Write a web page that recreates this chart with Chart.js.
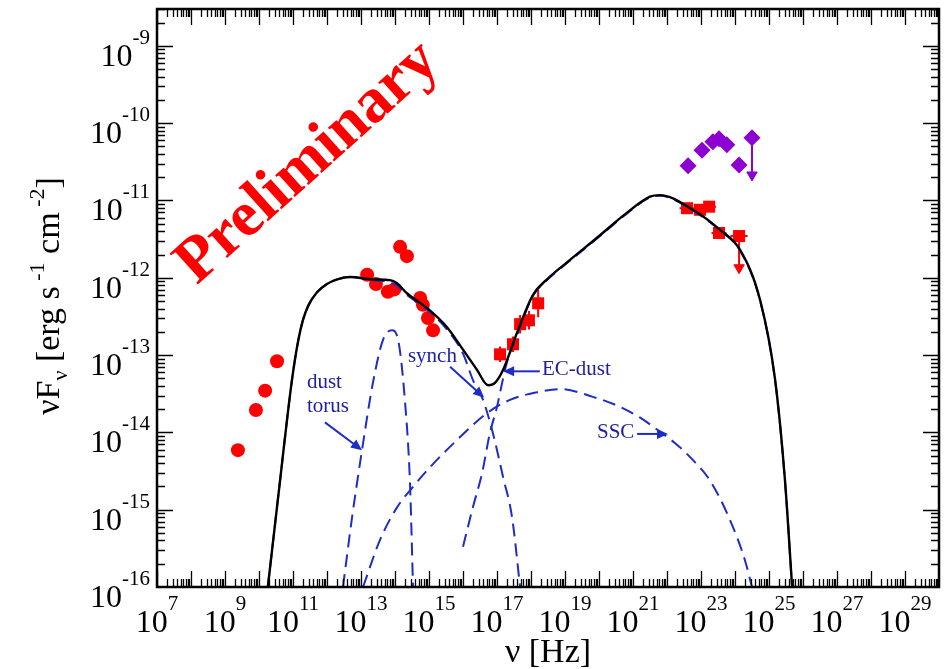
<!DOCTYPE html>
<html>
<head>
<meta charset="utf-8">
<title>SED</title>
<script src="https://cdn.jsdelivr.net/npm/chart.js@4.4.1/dist/chart.umd.min.js"></script>
<style>
  html, body { margin: 0; padding: 0; background: #fff; }
  canvas { display: block; }
</style>
</head>
<body>
<canvas id="sed" width="948" height="669"></canvas>
<script>
// Broadband SED. All values are log10(nu / Hz) and log10(nuFnu / erg s^-1 cm^-2)

// radio / IR / optical-UV photometry (red circles)
const circleLogNu   = [9.38, 9.91, 10.18, 10.53, 13.18, 13.44, 13.79, 13.98, 14.15, 14.35, 14.74, 14.82, 14.97, 15.12];
const circleLogFlux = [-14.23, -13.71, -13.46, -13.08, -11.96, -12.08, -12.18, -12.15, -11.60, -11.72, -12.26, -12.35, -12.52, -12.68];

// X-ray spectrum (red squares with error bars)
const xrayLogNu   = [17.09, 17.47, 17.68, 17.94, 18.21];
const xrayLogFlux = [-12.99, -12.86, -12.60, -12.55, -12.33];
const xrayLogErr  = [0.10, 0.10, 0.12, 0.12, 0.18];

// gamma-ray bins (red squares), last one is an upper limit
const gammaLogNu    = [22.59, 22.97, 23.24, 23.53, 24.12];
const gammaLogFlux  = [-11.10, -11.12, -11.08, -11.42, -11.46];
const gammaLogNuErr = [0.22, 0.2, 0.2, 0.22, 0.25];
const gammaLimitLogNu = [24.12];
const gammaLimitFrom  = [-11.46];
const gammaLimitTo    = [-11.87];

// second gamma-ray data set (purple diamonds), last one is an upper limit
const tevLogNu   = [22.62, 23.03, 23.35, 23.53, 23.76, 24.12, 24.50];
const tevLogFlux = [-10.55, -10.35, -10.24, -10.20, -10.28, -10.54, -10.19];
const tevLimitLogNu = [24.50];
const tevLimitFrom  = [-10.19];
const tevLimitTo    = [-10.67];

// model components
const totalLogNu   = [10.26, 10.62, 10.97, 11.15, 11.29, 11.45, 11.70, 12.00, 12.30, 12.68, 13.35, 13.85, 14.06, 14.35, 14.94, 15.53, 16.00, 16.41, 16.74, 16.94, 17.18, 17.59, 18.06, 18.47, 19.06, 20.03, 20.76, 21.50, 21.79, 22.76, 23.56, 24.15, 24.74, 25.18, 25.47, 25.68];
const totalLogFlux = [-16.0, -14.62, -13.32, -12.82, -12.55, -12.36, -12.19, -12.08, -12.02, -11.99, -12.02, -12.03, -12.07, -12.20, -12.39, -12.64, -12.93, -13.19, -13.39, -13.36, -13.19, -12.71, -12.22, -12.02, -11.80, -11.45, -11.18, -10.95, -10.93, -11.12, -11.38, -11.64, -12.29, -13.32, -14.62, -16.0];

const synchLogNu   = [10.26, 10.62, 10.97, 11.15, 11.29, 11.45, 11.70, 12.00, 12.30, 12.68, 13.35, 13.85, 14.06, 14.35, 14.94, 15.53, 16.00, 16.29, 16.59, 16.88, 17.18, 17.44, 17.68];
const synchLogFlux = [-16.0, -14.62, -13.32, -12.82, -12.55, -12.36, -12.19, -12.08, -12.02, -11.99, -12.03, -12.06, -12.10, -12.22, -12.41, -12.67, -12.98, -13.32, -13.58, -14.01, -14.58, -15.09, -16.0];

const torusLogNu   = [12.47, 12.74, 13.03, 13.35, 13.65, 13.91, 14.09, 14.29, 14.44, 14.53];
const torusLogFlux = [-16.0, -15.09, -14.23, -13.36, -12.80, -12.68, -12.80, -13.58, -14.65, -16.0];

const sscLogNu   = [13.06, 13.56, 14.06, 14.50, 15.03, 15.82, 16.71, 17.38, 18.18, 18.85, 19.82, 20.62, 21.21, 21.79, 22.24, 22.68, 23.26, 23.85, 24.29, 24.50];
const sscLogFlux = [-16.0, -15.39, -14.97, -14.72, -14.45, -14.10, -13.75, -13.58, -13.48, -13.44, -13.54, -13.67, -13.81, -13.99, -14.14, -14.32, -14.62, -15.13, -15.65, -16.0];

const ecLogNu   = [16.00, 16.29, 16.56, 16.79, 17.00, 17.15, 17.29, 17.59, 18.06, 18.47, 19.06, 20.03, 20.76, 21.50, 21.79, 22.76, 23.56, 24.15, 24.74, 25.18, 25.47, 25.68];
const ecLogFlux = [-15.48, -14.97, -14.53, -14.01, -13.67, -13.36, -13.10, -12.74, -12.23, -12.03, -11.81, -11.46, -11.19, -10.96, -10.94, -11.13, -11.39, -11.65, -12.30, -13.33, -14.63, -16.0];

// axis tick labels (exponents)
const xTickExps = [7, 9, 11, 13, 15, 17, 19, 21, 23, 25, 27, 29];
const yTickExps = [-16, -15, -14, -13, -12, -11, -10, -9];

const serif = '"Liberation Serif", "DejaVu Serif", serif';
const RED = 'rgb(255,0,0)';
const PURPLE = 'rgb(140,0,210)';
const BLUE = 'rgb(30,45,200)';
const NAVY = 'rgb(30,30,160)';

const pts = (nu, fl) => nu.map((v, i) => ({ x: 10 ** v, y: 10 ** fl[i] }));

function vBars(nu, fl, err) {
    const out = [];
    nu.forEach((v, i) => {
        out.push({ x: 10 ** v, y: 10 ** (fl[i] - err[i]) }, { x: 10 ** v, y: 10 ** (fl[i] + err[i]) }, { x: 10 ** v, y: null });
    });
    return out;
}
function hBars(nu, fl, err) {
    const out = [];
    nu.forEach((v, i) => {
        out.push({ x: 10 ** (v - err[i]), y: 10 ** fl[i] }, { x: 10 ** (v + err[i]), y: 10 ** fl[i] }, { x: 10 ** v, y: null });
    });
    return out;
}
function limitShafts(nu, from, to) {
    const out = [];
    nu.forEach((v, i) => {
        out.push({ x: 10 ** v, y: 10 ** from[i] }, { x: 10 ** v, y: 10 ** to[i] }, { x: 10 ** v, y: null });
    });
    return out;
}

const curve = (nu, fl, color, width, dashed, order) => ({
    data: pts(nu, fl), showLine: true, borderColor: color, borderWidth: width,
    borderDash: dashed ? [13, 7] : [], pointRadius: 0, cubicInterpolationMode: 'monotone',
    fill: false, order: order
});
const segs = (data, color, order) => ({
    data: data, showLine: true, borderColor: color, borderWidth: 2, pointRadius: 0,
    tension: 0, spanGaps: false, order: order
});

// annotations placed in data coordinates
const notes = [
    { text: 'dust',    nu: 11.41, f: -13.43 },
    { text: 'torus',   nu: 11.41, f: -13.74 },
    { text: 'synch',   nu: 14.38, f: -13.09 },
    { text: 'EC-dust', nu: 18.32, f: -13.26 },
    { text: 'SSC',     nu: 19.94, f: -14.07 }
];
const arrows = [
    { from: [11.94, -13.87], to: [13.03, -14.23] },
    { from: [15.62, -13.15], to: [16.62, -13.55] },
    { from: [18.26, -13.21], to: [17.18, -13.21] },
    { from: [21.12, -14.02], to: [22.03, -14.02] }
];

function drawParts(ctx, parts, x, y) {
    let cx = x;
    parts.forEach(p => {
        ctx.font = p.font;
        ctx.fillText(p.t, cx, y + (p.dy || 0));
        cx += ctx.measureText(p.t).width;
    });
}
function partsWidth(ctx, parts) {
    let w = 0;
    parts.forEach(p => { ctx.font = p.font; w += ctx.measureText(p.t).width; });
    return w;
}

const sedDecor = {
    id: 'sedDecor',
    afterDraw(chart) {
        const { ctx, chartArea: a, scales: { x, y } } = chart;
        ctx.save();

        // inward ticks on all four sides
        ctx.strokeStyle = '#000';
        ctx.lineWidth = 1.3;
        ctx.beginPath();
        for (let d = 7; d < 30; d++) {
            for (let m = 1; m < 10; m++) {
                const px = Math.round(x.getPixelForValue(m * 10 ** d)) + 0.5;
                if (px < a.left || px > a.right) continue;
                const len = m === 1 ? 16 : 8;
                ctx.moveTo(px, a.bottom); ctx.lineTo(px, a.bottom - len);
                ctx.moveTo(px, a.top); ctx.lineTo(px, a.top + len);
            }
        }
        for (let d = -16; d < -8; d++) {
            for (let m = 1; m < 10; m++) {
                const py = Math.round(y.getPixelForValue(m * 10 ** d)) + 0.5;
                if (py < a.top || py > a.bottom) continue;
                const len = m === 1 ? 16 : 8;
                ctx.moveTo(a.left, py); ctx.lineTo(a.left + len, py);
                ctx.moveTo(a.right, py); ctx.lineTo(a.right - len, py);
            }
        }
        ctx.stroke();

        // frame
        ctx.lineWidth = 2.5;
        ctx.strokeRect(a.left, a.top, a.width, a.height);

        // tick labels
        ctx.fillStyle = '#000';
        ctx.textBaseline = 'alphabetic';
        ctx.textAlign = 'left';
        const big = '32px ' + serif, small = '21px ' + serif;
        xTickExps.forEach(e => {
            const px = x.getPixelForValue(10 ** e);
            const parts = [{ t: '10', font: big }, { t: String(e), font: small, dy: -22 }];
            drawParts(ctx, parts, px - partsWidth(ctx, parts) / 2, a.bottom + 45);
        });
        yTickExps.forEach(e => {
            const py = y.getPixelForValue(10 ** e);
            const parts = [{ t: '10', font: big }, { t: String(e), font: small, dy: -22 }];
            drawParts(ctx, parts, a.left - 7 - partsWidth(ctx, parts), py + 20);
        });

        // axis titles
        const tBig = '34px ' + serif, tSmall = '22px ' + serif;
        const xt = [{ t: 'ν [Hz]', font: tBig }];
        drawParts(ctx, xt, 548 - partsWidth(ctx, xt) / 2, 662);
        const yt = [
            { t: 'νF', font: tBig }, { t: 'ν', font: tSmall, dy: 8 },
            { t: ' [erg s', font: tBig }, { t: ' -1', font: tSmall, dy: -15 },
            { t: ' cm', font: tBig }, { t: ' -2', font: tSmall, dy: -15 },
            { t: ']', font: tBig }
        ];
        ctx.save();
        ctx.translate(59, 296);
        ctx.rotate(-Math.PI / 2);
        drawParts(ctx, yt, -partsWidth(ctx, yt) / 2, 0);
        ctx.restore();

        // component labels and arrows
        ctx.fillStyle = NAVY;
        ctx.font = '21px ' + serif;
        notes.forEach(n => {
            ctx.fillText(n.text, x.getPixelForValue(10 ** n.nu), y.getPixelForValue(10 ** n.f));
        });
        ctx.strokeStyle = BLUE;
        ctx.fillStyle = BLUE;
        ctx.lineWidth = 2;
        arrows.forEach(ar => {
            const x0 = x.getPixelForValue(10 ** ar.from[0]), y0 = y.getPixelForValue(10 ** ar.from[1]);
            const x1 = x.getPixelForValue(10 ** ar.to[0]), y1 = y.getPixelForValue(10 ** ar.to[1]);
            const ang = Math.atan2(y1 - y0, x1 - x0);
            ctx.beginPath();
            ctx.moveTo(x0, y0);
            ctx.lineTo(x1 - 6 * Math.cos(ang), y1 - 6 * Math.sin(ang));
            ctx.stroke();
            ctx.beginPath();
            ctx.moveTo(x1, y1);
            ctx.lineTo(x1 - 11 * Math.cos(ang) + 5 * Math.sin(ang), y1 - 11 * Math.sin(ang) - 5 * Math.cos(ang));
            ctx.lineTo(x1 - 11 * Math.cos(ang) - 5 * Math.sin(ang), y1 - 11 * Math.sin(ang) + 5 * Math.cos(ang));
            ctx.closePath();
            ctx.fill();
        });

        // watermark
        ctx.save();
        ctx.translate(308, 163);
        ctx.rotate(-42 * Math.PI / 180);
        ctx.fillStyle = RED;
        ctx.font = 'bold 64px ' + serif;
        ctx.textAlign = 'center';
        ctx.textBaseline = 'middle';
        ctx.fillText('Preliminary', 0, 0);
        ctx.restore();

        ctx.restore();
    }
};

new Chart(document.getElementById('sed'), {
    type: 'scatter',
    data: {
        datasets: [
            curve(totalLogNu, totalLogFlux, '#000', 2.4, false, 1),
            curve(synchLogNu, synchLogFlux, BLUE, 2, true, 2),
            curve(torusLogNu, torusLogFlux, BLUE, 2, true, 2),
            curve(sscLogNu, sscLogFlux, BLUE, 2, true, 2),
            curve(ecLogNu, ecLogFlux, BLUE, 2, true, 2),
            segs(vBars(xrayLogNu, xrayLogFlux, xrayLogErr), RED, 5),
            segs(hBars(xrayLogNu, xrayLogFlux, xrayLogErr.map(() => 0.12)), RED, 5),
            segs(hBars(gammaLogNu, gammaLogFlux, gammaLogNuErr), RED, 5),
            segs(limitShafts(gammaLimitLogNu, gammaLimitFrom, gammaLimitTo), RED, 5),
            segs(limitShafts(tevLimitLogNu, tevLimitFrom, tevLimitTo), PURPLE, 5),
            {
                data: pts(gammaLimitLogNu, gammaLimitTo), pointStyle: 'triangle', rotation: 180,
                pointRadius: 6, backgroundColor: RED, borderColor: RED, borderWidth: 1, order: 4
            },
            {
                data: pts(tevLimitLogNu, tevLimitTo), pointStyle: 'triangle', rotation: 180,
                pointRadius: 6, backgroundColor: PURPLE, borderColor: PURPLE, borderWidth: 1, order: 4
            },
            {
                data: pts(circleLogNu, circleLogFlux), pointStyle: 'circle', pointRadius: 7,
                backgroundColor: RED, borderColor: RED, borderWidth: 0, order: 6
            },
            {
                data: pts(xrayLogNu, xrayLogFlux), pointStyle: 'rect', pointRadius: 8.5,
                backgroundColor: RED, borderColor: RED, borderWidth: 0, order: 4
            },
            {
                data: pts(gammaLogNu, gammaLogFlux), pointStyle: 'rect', pointRadius: 8.5,
                backgroundColor: RED, borderColor: RED, borderWidth: 0, order: 4
            },
            {
                data: pts(tevLogNu, tevLogFlux), pointStyle: 'rectRot', pointRadius: 8.5,
                backgroundColor: PURPLE, borderColor: PURPLE, borderWidth: 0, order: 4
            }
        ]
    },
    options: {
        responsive: false,
        animation: false,
        layout: { padding: { top: 9, right: 9, left: 0, bottom: 0 } },
        plugins: { legend: { display: false }, tooltip: { enabled: false } },
        scales: {
            x: {
                type: 'logarithmic', min: 1e7, max: 1e30,
                ticks: { display: false }, grid: { display: false }, border: { display: false },
                afterFit(s) { s.height = 82; }
            },
            y: {
                type: 'logarithmic', min: 1e-16, max: 3e-9,
                ticks: { display: false }, grid: { display: false }, border: { display: false },
                afterFit(s) { s.width = 157; }
            }
        }
    },
    plugins: [sedDecor]
});
</script>
</body>
</html>
